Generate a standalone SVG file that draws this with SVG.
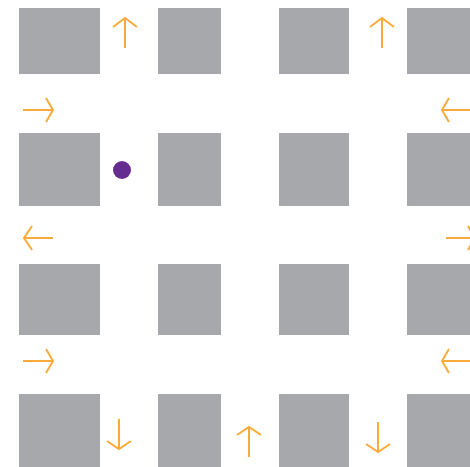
<svg xmlns="http://www.w3.org/2000/svg" width="470" height="467" viewBox="0 0 470 467">
<style>
.b{fill:#a7a8ab}
.a{fill:none;stroke:#f9ab3a;stroke-width:2;stroke-linecap:butt;stroke-linejoin:miter}
</style>
<rect width="470" height="467" fill="#ffffff"/>
<g id="blocks">
<g id="b11"><rect class="b" x="19" y="8" width="81" height="66"/></g>
<g id="b12"><rect class="b" x="158" y="8" width="63" height="66"/></g>
<g id="b13"><rect class="b" x="279" y="8" width="70" height="66"/></g>
<g id="b14"><rect class="b" x="407" y="8" width="70" height="66"/></g>
<g id="b21"><rect class="b" x="19" y="133" width="81" height="73"/></g>
<g id="b22"><rect class="b" x="158" y="133" width="63" height="73"/></g>
<g id="b23"><rect class="b" x="279" y="133" width="70" height="73"/></g>
<g id="b24"><rect class="b" x="407" y="133" width="70" height="73"/></g>
<g id="b31"><rect class="b" x="19" y="264" width="81" height="71"/></g>
<g id="b32"><rect class="b" x="158" y="264" width="63" height="71"/></g>
<g id="b33"><rect class="b" x="279" y="264" width="70" height="71"/></g>
<g id="b34"><rect class="b" x="407" y="264" width="70" height="71"/></g>
<g id="b41"><rect class="b" x="19" y="394" width="81" height="80"/></g>
<g id="b42"><rect class="b" x="158" y="394" width="63" height="80"/></g>
<g id="b43"><rect class="b" x="279" y="394" width="70" height="80"/></g>
<g id="b44"><rect class="b" x="407" y="394" width="70" height="80"/></g>
</g>
<g id="dot"><circle cx="122" cy="170" r="9" fill="#662d91"/></g>
<g id="connectors">
<path class="a" d="M125 48V18M113 27L125 18L137 27"/>
<path class="a" d="M382 48V18M370 27L382 18L394 27"/>
<path class="a" d="M23 110H53M46 98L53 110L46 122"/>
<path class="a" d="M472 110H442M449 98L442 110L449 122"/>
<path class="a" d="M53 238H24M32 226L24 238L32 250"/>
<path class="a" d="M446 238H475M468 226L475 238L468 250"/>
<path class="a" d="M23 361H53M46 349L53 361L46 373"/>
<path class="a" d="M472 361H442M449 349L442 361L449 373"/>
<path class="a" d="M119 419V449M107 441L119 449L131 441"/>
<path class="a" d="M249 457V427M237 435L249 427L261 435"/>
<path class="a" d="M378 422V452M366 444L378 452L390 444"/>
</g>
</svg>
